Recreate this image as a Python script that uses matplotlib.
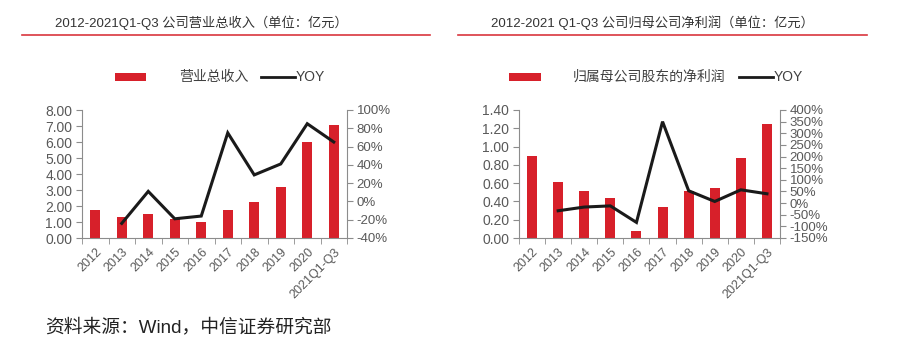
import numpy as np
import matplotlib.pyplot as plt
from matplotlib.patches import Rectangle
from matplotlib.lines import Line2D
from matplotlib.ticker import FuncFormatter, MultipleLocator

plt.rcParams['font.family'] = ['Liberation Sans', 'Noto Sans CJK SC', 'DejaVu Sans']

# data
years = ["2012", "2013", "2014", "2015", "2016", "2017", "2018", "2019", "2020", "2021Q1-Q3"]
revenue = [1.76, 1.34, 1.51, 1.19, 0.99, 1.76, 2.26, 3.21, 5.97, 7.09]
revenue_yoy = [None, -24, 11, -19, -16, 75, 29, 41, 85, 65]
profit = [0.90, 0.61, 0.51, 0.44, 0.08, 0.335, 0.51, 0.55, 0.87, 1.245]
profit_yoy = [None, -33, -17, -12, -83, 350, 53, 7, 57, 40]

W, H = 898, 360
RED = "#d7202a"
GRAY = "#595959"
SPINE = "#8c8c8c"

fig = plt.figure(figsize=(W / 100, H / 100), dpi=100)


def px(x0, y0, x1, y1):
    return [x0 / W, 1 - y1 / H, (x1 - x0) / W, (y1 - y0) / H]


def draw(rect, bars, yoy, ylim, ystep, y2lim, y2step, title, tx, line_x, leg, name):
    ax = fig.add_axes(px(*rect))
    x = np.arange(len(years))
    ax.bar(x, bars, width=0.38, color=RED, zorder=2)
    ax.set_xlim(-0.5, len(years) - 0.5)
    ax.set_ylim(*ylim)
    ax.yaxis.set_major_locator(MultipleLocator(ystep))
    ax.yaxis.set_major_formatter(FuncFormatter(lambda v, p: f"{v:.2f}"))
    ax.set_xticks(x)
    ax.set_xticklabels(years, rotation=45, ha="right", rotation_mode="anchor")
    ax.set_xticks(np.arange(-0.5, len(years)), minor=True)
    ax.tick_params(axis="x", which="major", length=0, pad=6, labelsize=9, colors=GRAY)
    ax.tick_params(axis="x", which="minor", length=4, color=SPINE, direction="out")
    ax.tick_params(axis="y", length=4, color=SPINE, labelsize=10, labelcolor=GRAY, pad=3)
    ax.spines["top"].set_visible(False)
    ax.spines["right"].set_visible(False)
    for s in ("left", "bottom"):
        ax.spines[s].set_color(SPINE)

    ax2 = ax.twinx()
    xs = [i for i, v in enumerate(yoy) if v is not None]
    ys = [v for v in yoy if v is not None]
    ax2.plot(xs, ys, color="#1a1a1a", lw=2.2, zorder=3, solid_joinstyle="miter")
    ax2.set_ylim(*y2lim)
    ax2.yaxis.set_major_locator(MultipleLocator(y2step))
    ax2.yaxis.set_major_formatter(FuncFormatter(lambda v, p: f"{v:.0f}%"))
    ax2.tick_params(axis="y", length=4, color=SPINE, labelsize=9.5, labelcolor=GRAY, pad=3)
    for s in ("top", "left", "bottom"):
        ax2.spines[s].set_visible(False)
    ax2.spines["right"].set_color(SPINE)

    # title and red rule
    fig.text(tx / W, 1 - 23 / H, title, ha="center", va="center", fontsize=9.5, color="#333333")
    fig.add_artist(Line2D([line_x[0] / W, line_x[1] / W], [1 - 35 / H] * 2,
                          color="#d9363e", lw=1.2))

    # legend
    p0, p1, t0, l0, l1 = leg
    fig.add_artist(Rectangle((p0 / W, 1 - 80.5 / H), (p1 - p0) / W, 7 / H, color=RED, lw=0))
    fig.text(t0 / W, 1 - 77 / H, name, ha="left", va="center", fontsize=10, color="#404040")
    fig.add_artist(Line2D([l0 / W, l1 / W], [1 - 77 / H] * 2, color="#1a1a1a", lw=2))
    fig.text((l1 + 1) / W, 1 - 77 / H, "YOY", ha="left", va="center", fontsize=10, color="#404040")


draw((82, 110, 347, 238), revenue, revenue_yoy, (0, 8), 1, (-40, 100), 20,
     "2012-2021Q1-Q3 公司营业总收入（单位：亿元）", 201, (22, 430),
     (115, 146, 179, 261, 295), "营业总收入")
draw((519, 110, 780, 238), profit, profit_yoy, (0, 1.4), 0.2, (-150, 400), 50,
     "2012-2021 Q1-Q3 公司归母公司净利润（单位：亿元）", 652, (458, 867),
     (509, 541, 573, 739, 773), "归属母公司股东的净利润")

fig.text(45 / W, 1 - 327 / H, "资料来源：Wind，中信证券研究部", ha="left", va="center",
         fontsize=13.5, color="#222222")

fig.savefig("out.png", dpi=100)
